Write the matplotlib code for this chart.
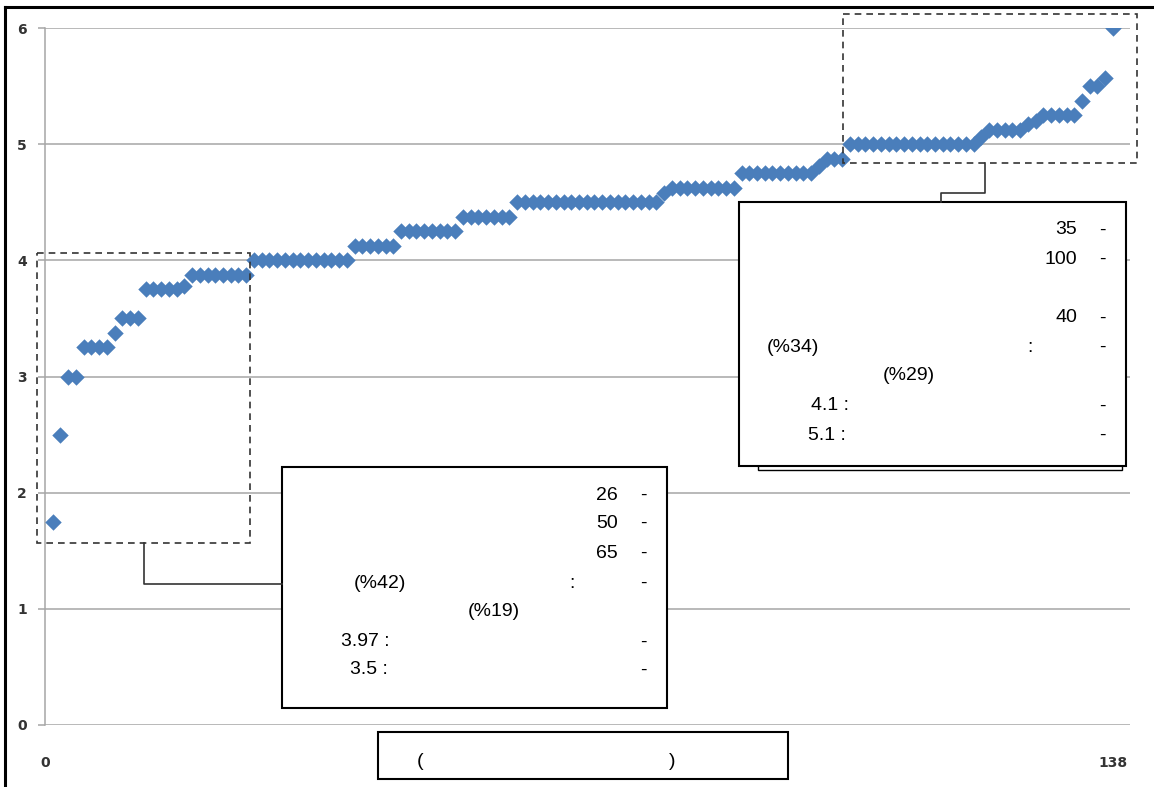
import matplotlib
matplotlib.use("Agg")
import matplotlib.pyplot as plt
from matplotlib.patches import Rectangle

# sorted mean scores, 138 respondents (groups of equal values)
levels = [1.75, 2.5, 3.0, 3.25, 3.375, 3.5, 3.75, 3.78, 3.875, 4.0, 4.125,
          4.25, 4.375, 4.5, 4.58, 4.625, 4.75, 4.81, 4.875, 5.0, 5.06, 5.125,
          5.17, 5.2, 5.25, 5.375, 5.5, 5.57, 6.0]
counts = [1, 1, 2, 4, 1, 3, 5, 1, 8, 13, 6,
          8, 7, 19, 1, 9, 10, 1, 3, 17, 1, 5,
          1, 1, 5, 1, 2, 1, 1]
y_ticks = [0, 1, 2, 3, 4, 5, 6]

scores = []
for v, c in zip(levels, counts):
    scores += [v] * c
n = len(scores)
idx = list(range(1, n + 1))

# texts in the two call-out boxes (visible parts only)
low_nums = ["26", "50", "65"]
high_nums = ["35", "100", "40"]

W, H = 1154, 787
fig = plt.figure(figsize=(W / 100, H / 100), dpi=100)


def fx(px):
    return px / W


def fy(py):
    return 1 - py / H


grey = "#a6a6a6"
ax = fig.add_axes([fx(45), fy(725), fx(1130) - fx(45), fy(28) - fy(725)])
ax.scatter(idx, scores, marker="D", s=70, color="#4a7ebb", linewidths=0, zorder=3)
ax.set_xlim(0, 140.2)
ax.set_ylim(0, 6)
ax.set_yticks(y_ticks)
ax.set_xticks([0, n])
ax.grid(axis="y", color=grey, linewidth=1.1)
for s in ["top", "right", "bottom"]:
    ax.spines[s].set_visible(False)
ax.spines["left"].set_color(grey)
ax.spines["left"].set_linewidth(1.1)
ax.tick_params(axis="y", length=5, width=1.1, color=grey, pad=8,
               labelsize=10, labelcolor="#333333")
ax.tick_params(axis="x", length=0, pad=22, labelsize=10, labelcolor="#333333")
for lab in ax.get_yticklabels() + ax.get_xticklabels():
    lab.set_fontweight("bold")

# overlay in pixel coordinates for the annotation boxes
ov = fig.add_axes([0, 0, 1, 1], facecolor="none")
ov.set_xlim(0, W)
ov.set_ylim(H, 0)
ov.axis("off")

# page border
ov.plot([5, W], [7, 7], color="black", linewidth=2.2)
ov.plot([5, 5], [7, H], color="black", linewidth=2.2)

dash = dict(fill=False, edgecolor="#333333", linewidth=1.2, linestyle=(0, (4, 3)))
ov.add_patch(Rectangle((37, 253), 250 - 37, 543 - 253, **dash))
ov.add_patch(Rectangle((843, 14), 1137 - 843, 163 - 14, **dash))

# connectors
ov.plot([144, 144, 282], [543, 584, 584], color="#333333", linewidth=1.2)
ov.plot([985, 985, 941, 941], [163, 193, 193, 202], color="#333333", linewidth=1.2)

# boxes
box = dict(facecolor="white", edgecolor="black", linewidth=1.5)
ov.add_patch(Rectangle((282, 467), 667 - 282, 708 - 467, **box))
ov.add_patch(Rectangle((758, 210), 1122 - 758, 470 - 210,
                       facecolor="white", edgecolor="black", linewidth=1.0))
ov.add_patch(Rectangle((739, 202), 1126 - 739, 466 - 202, **box))
ov.add_patch(Rectangle((378, 732), 788 - 378, 779 - 732, **box))

tf = dict(family="Liberation Sans", fontsize=14, color="black", va="center")

# lower box
for t, yy in zip(low_nums, [495, 523, 553]):
    ov.text(618, yy, t, ha="right", **tf)
for yy in [495, 523, 553, 583, 642, 670]:
    ov.text(643, yy, "-", ha="center", **tf)
ov.text(380, 583, "(%42)", ha="center", **tf)
ov.text(572, 583, ":", ha="center", **tf)
ov.text(494, 612, "(%19)", ha="center", **tf)
ov.text(390, 642, "3.97 :", ha="right", **tf)
ov.text(388, 670, "3.5 :", ha="right", **tf)

# upper box
for t, yy in zip(high_nums, [230, 259, 318]):
    ov.text(1077, yy, t, ha="right", **tf)
for yy in [230, 259, 318, 347, 406, 435]:
    ov.text(1102, yy, "-", ha="center", **tf)
ov.text(793, 347, "(%34)", ha="center", **tf)
ov.text(1030, 347, ":", ha="center", **tf)
ov.text(909, 376, "(%29)", ha="center", **tf)
ov.text(849, 406, "4.1 :", ha="right", **tf)
ov.text(846, 435, "5.1 :", ha="right", **tf)

# x-axis title box
ov.text(420, 761, "(", ha="center", **tf)
ov.text(672, 761, ")", ha="center", **tf)

fig.savefig("out.png", dpi=100)
